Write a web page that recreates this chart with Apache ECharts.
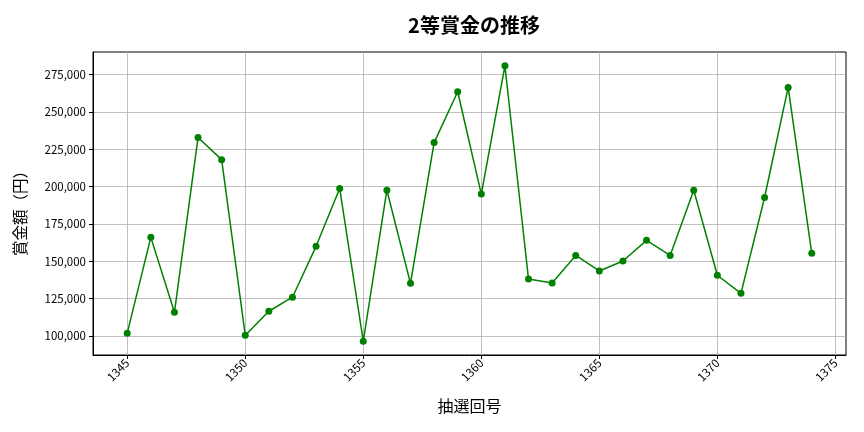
<!DOCTYPE html>
<html lang="ja">
<head>
    <meta charset="UTF-8"/>
    <title>2等賞金の推移</title>
    <script src="https://cdn.jsdelivr.net/npm/echarts@6/dist/echarts.min.js"></script>
    <style>
        html, body { margin: 0; padding: 0; background: #fff; }
        #main { width: 864px; height: 432px; }
    </style>
</head>
<body>
<div id="main"></div>
<script type="text/javascript">
    // 抽選回号と賞金額
    var rounds = [1345, 1346, 1347, 1348, 1349, 1350, 1351, 1352, 1353, 1354,
                  1355, 1356, 1357, 1358, 1359, 1360, 1361, 1362, 1363, 1364,
                  1365, 1366, 1367, 1368, 1369, 1370, 1371, 1372, 1373, 1374];
    var prizes = [101800, 166000, 115800, 232900, 218100, 100400, 116500, 125900, 160000, 198800,
                  96400, 197600, 135200, 229500, 263600, 195000, 281000, 138100, 135400, 153900,
                  143500, 150200, 164000, 153900, 197600, 140600, 128500, 192700, 266500, 155300];
    var xTicks = [1345, 1350, 1355, 1360, 1365, 1370, 1375];
    var yTicks = [100000, 125000, 150000, 175000, 200000, 225000, 250000, 275000];

    var font = '"Noto Sans CJK JP", "Noto Sans", sans-serif';
    var myChart = echarts.init(document.getElementById('main'));

    var option = {
        animation: false,
        title: {
            text: '2等賞金の推移',
            left: 469,
            textAlign: 'center',
            top: 10,
            textStyle: { fontFamily: font, fontSize: 20, fontWeight: 'bold', color: '#000' }
        },
        grid: {
            left: 93, right: 18, top: 52, bottom: 77,
            show: true, borderColor: '#000', borderWidth: 1, backgroundColor: '#fff'
        },
        xAxis: {
            type: 'value',
            min: 1343.55,
            max: 1375.45,
            name: '抽選回号',
            nameLocation: 'middle',
            nameGap: 43,
            nameTextStyle: { fontFamily: font, fontSize: 16, color: '#000' },
            axisLine: { show: true, lineStyle: { color: '#000' } },
            axisTick: { show: true, customValues: xTicks, length: 4, lineStyle: { color: '#000' } },
            axisLabel: {
                customValues: xTicks, rotate: 45, margin: 6,
                fontFamily: font, fontSize: 11.5, color: '#000',
                formatter: function (v) { return String(v); }
            },
            splitLine: { show: true, lineStyle: { color: '#b0b0b0', width: 0.8 } }
        },
        yAxis: {
            type: 'value',
            min: 87170,
            max: 290230,
            name: '賞金額（円）',
            nameLocation: 'middle',
            nameRotate: 90,
            nameGap: 65,
            nameTextStyle: { fontFamily: font, fontSize: 15.5, color: '#000', padding: [0, 0, 0, -12] },
            axisLine: { show: true, lineStyle: { color: '#000' } },
            axisTick: { show: true, customValues: yTicks, length: 4, lineStyle: { color: '#000' } },
            axisLabel: {
                customValues: yTicks, margin: 7,
                fontFamily: font, fontSize: 11.5, color: '#000',
                formatter: function (v) { return v.toLocaleString('en-US'); }
            },
            splitLine: { show: true, lineStyle: { color: '#b0b0b0', width: 0.8 } }
        },
        series: [
            {
                name: '2等賞金',
                type: 'line',
                data: rounds.map(function (r, i) { return [r, prizes[i]]; }),
                symbol: 'circle',
                symbolSize: 7,
                lineStyle: { color: '#008000', width: 1.5 },
                itemStyle: { color: '#008000' }
            }
        ]
    };

    myChart.setOption(option);
</script>
</body>
</html>
